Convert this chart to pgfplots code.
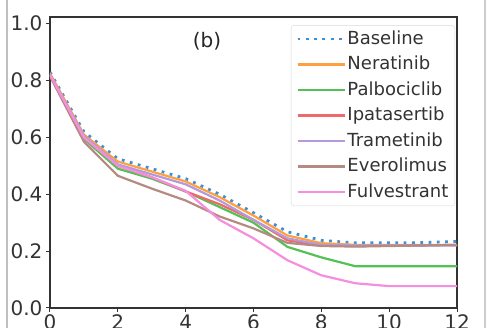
\documentclass[border=0pt]{standalone}
\usepackage{fontspec}
\setmainfont{DejaVu Sans}
\usepackage{pgfplots}
\pgfplotsset{compat=1.18}
\definecolor{cbase}{HTML}{3D8FD6}
\definecolor{corange}{HTML}{FFA040}
\definecolor{cgreen}{HTML}{55C055}
\definecolor{cred}{HTML}{F06868}
\definecolor{cpurple}{HTML}{B599DD}
\definecolor{cbrown}{HTML}{B58A80}
\definecolor{cpink}{HTML}{F58EDE}
\begin{document}
\begin{tikzpicture}
\useasboundingbox (0,0) rectangle (487pt,328pt);
\clip (0,0) rectangle (487pt,328pt);
\begin{axis}[
  at={(50pt,20pt)}, anchor=south west,
  scale only axis, width=407pt, height=291pt,
  xmin=0, xmax=12, ymin=0, ymax=1.0235,
  xtick={0,2,4,6,8,10,12},
  ytick={0,0.2,0.4,0.6,0.8,1.0},
  yticklabel style={/pgf/number format/.cd, fixed, fixed zerofill, precision=1},
  /pgf/number format/assume math mode=true,
  tick align=outside, major tick length=4pt,
  xtick pos=lower, ytick pos=left,
  tick style={black!80, line width=1pt},
  axis line style={black!80, line width=1.2pt},
  ticklabel style={font=\fontsize{20}{22}\selectfont, text=black!80},
  xticklabel style={yshift=1pt},
  legend cell align=left,
  legend style={at={(0.9951,0.972)}, anchor=north east, draw=black!15, rounded corners=3pt,
    font=\fontsize{18}{21}\selectfont, text=black!80,
    row sep=4pt, inner xsep=5pt, inner ysep=3pt,
    nodes={inner sep=1.5pt, text height=14.5pt, text depth=4pt}},
  legend image code/.code={\path (0pt,0pt) -- (47pt,0pt); \draw[#1] (0pt,0pt) -- (35pt,0pt);},
  every axis plot/.append style={line width=2.2pt, line join=round},
]
\addplot[cbase, line width=2.8pt, dash pattern=on 2.8pt off 5.5pt] coordinates {(0,0.83)(1,0.62)(2,0.525)(3,0.49)(4,0.455)(5,0.40)(6,0.335)(7,0.268)(8,0.238)(9,0.229)(10,0.229)(11,0.23)(12,0.234)};
\addlegendentry{Baseline}
\addplot[corange] coordinates {(0,0.825)(1,0.61)(2,0.515)(3,0.48)(4,0.445)(5,0.39)(6,0.325)(7,0.255)(8,0.228)(9,0.222)(10,0.222)(11,0.222)(12,0.222)};
\addlegendentry{Neratinib}
\addplot[cgreen] coordinates {(0,0.82)(1,0.595)(2,0.49)(3,0.455)(4,0.41)(5,0.355)(6,0.30)(7,0.215)(8,0.178)(9,0.147)(10,0.147)(11,0.147)(12,0.147)};
\addlegendentry{Palbociclib}
\addplot[cred] coordinates {(0,0.82)(1,0.60)(2,0.50)(3,0.46)(4,0.41)(5,0.365)(6,0.31)(7,0.238)(8,0.22)(9,0.218)(10,0.219)(11,0.22)(12,0.222)};
\addlegendentry{Ipatasertib}
\addplot[cpurple] coordinates {(0,0.82)(1,0.605)(2,0.505)(3,0.47)(4,0.435)(5,0.378)(6,0.31)(7,0.245)(8,0.222)(9,0.22)(10,0.22)(11,0.22)(12,0.22)};
\addlegendentry{Trametinib}
\addplot[cbrown] coordinates {(0,0.815)(1,0.585)(2,0.465)(3,0.42)(4,0.378)(5,0.322)(6,0.28)(7,0.229)(8,0.218)(9,0.216)(10,0.218)(11,0.22)(12,0.222)};
\addlegendentry{Everolimus}
\addplot[cpink] coordinates {(0,0.82)(1,0.60)(2,0.50)(3,0.46)(4,0.412)(5,0.31)(6,0.245)(7,0.168)(8,0.115)(9,0.087)(10,0.077)(11,0.077)(12,0.077)};
\addlegendentry{Fulvestrant}
\node[font=\fontsize{20}{22}\selectfont, text=black!85] at (axis cs:4.63,0.94) {(b)};
\end{axis}
\draw[black!20, line width=1.5pt] (485pt,0) -- (485pt,328pt);
\draw[black!25, line width=1.5pt] (7pt,0) -- (7pt,328pt);
\end{tikzpicture}
\end{document}
